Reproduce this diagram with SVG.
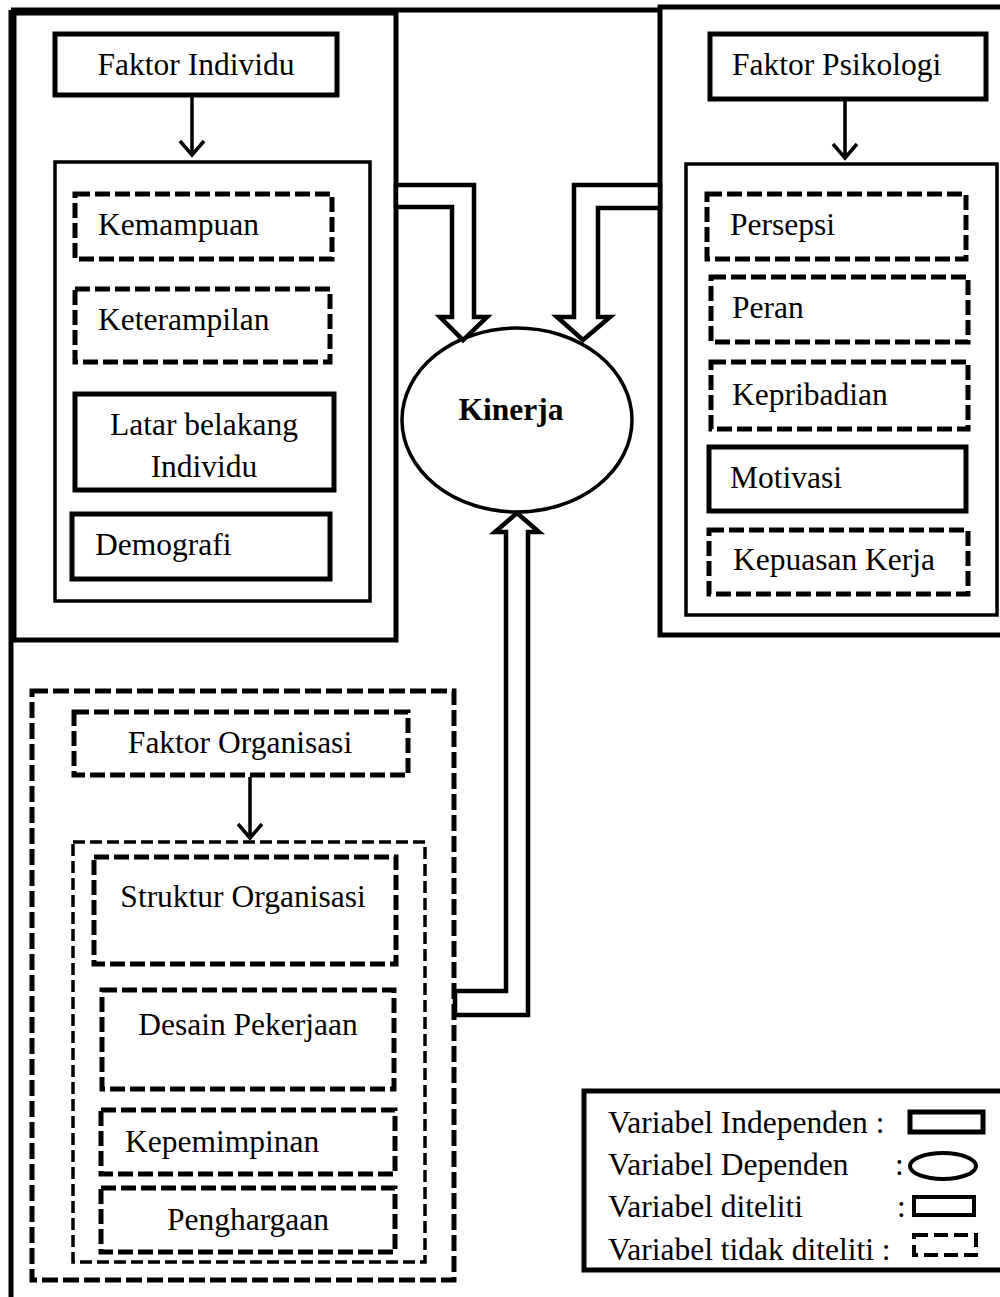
<svg xmlns="http://www.w3.org/2000/svg" width="1000" height="1297" viewBox="0 0 1000 1297">
<defs>
<style>
text{font-family:"Liberation Serif","Times New Roman",serif;font-size:31.5px;fill:#000}
.c{text-anchor:middle}
.b{font-weight:bold}
.solid{fill:none;stroke:#000;stroke-width:5}
.thin{fill:none;stroke:#000;stroke-width:3.5}
.dash{fill:none;stroke:#000;stroke-width:5;stroke-dasharray:15 5}
.dashthin{fill:none;stroke:#000;stroke-width:3.5;stroke-dasharray:12 5}
.dashbig{fill:none;stroke:#000;stroke-width:5;stroke-dasharray:16 5}
.line{fill:none;stroke:#000;stroke-width:3.5}
.block{fill:#fff;stroke:#000;stroke-width:4.5;stroke-linejoin:miter}
</style>
</defs>
<rect x="0" y="0" width="1000" height="1297" fill="#fff"/>

<g id="frame">
<path class="solid" d="M11,10 H662 M11,10 V1297"/>
</g>

<g id="group-individu">
<rect class="solid" x="14" y="13" width="382" height="627"/>
<rect class="thin" x="55" y="162" width="315" height="439"/>
</g>
<g id="faktor-individu">
<rect class="solid" x="55" y="34" width="282" height="61"/>
<text class="c" x="196" y="75">Faktor Individu</text>
</g>
<g id="kemampuan">
<rect class="dash" x="75" y="194" width="257" height="65"/>
<text x="98" y="235">Kemampuan</text>
</g>
<g id="keterampilan">
<rect class="dash" x="75" y="289" width="255" height="73"/>
<text x="98" y="330">Keterampilan</text>
</g>
<g id="latar-belakang">
<rect class="solid" x="75" y="394" width="259" height="96"/>
<text class="c" x="204" y="435">Latar belakang</text>
<text class="c" x="204" y="477">Individu</text>
</g>
<g id="demografi">
<rect class="solid" x="72" y="514" width="258" height="65"/>
<text x="95" y="555">Demografi</text>
</g>

<g id="group-psikologi">
<rect class="solid" x="660" y="7" width="345" height="628"/>
<rect class="thin" x="686" y="164" width="311" height="451"/>
</g>
<g id="faktor-psikologi">
<rect class="solid" x="710" y="34" width="276" height="65"/>
<text x="732" y="75">Faktor Psikologi</text>
</g>
<g id="persepsi">
<rect class="dash" x="707" y="194" width="259" height="65"/>
<text x="730" y="235">Persepsi</text>
</g>
<g id="peran">
<rect class="dash" x="711" y="277" width="257" height="65"/>
<text x="732" y="318">Peran</text>
</g>
<g id="kepribadian">
<rect class="dash" x="711" y="362" width="257" height="67"/>
<text x="732" y="405">Kepribadian</text>
</g>
<g id="motivasi">
<rect class="solid" x="709" y="447" width="257" height="64"/>
<text x="730" y="488">Motivasi</text>
</g>
<g id="kepuasan-kerja">
<rect class="dash" x="709" y="530" width="259" height="64"/>
<text x="733" y="570">Kepuasan Kerja</text>
</g>

<g id="kinerja">
<ellipse cx="517" cy="420" rx="115" ry="92" fill="#fff" stroke="#000" stroke-width="3.5"/>
<text class="c b" x="511" y="420">Kinerja</text>
</g>

<g id="group-organisasi">
<rect class="dashbig" x="32" y="691" width="422" height="589"/>
<rect class="dashthin" x="73" y="842" width="352" height="420"/>
</g>
<g id="faktor-organisasi">
<rect class="dash" x="74" y="712" width="334" height="63"/>
<text class="c" x="240" y="753">Faktor Organisasi</text>
</g>
<g id="struktur-organisasi">
<rect class="dash" x="94" y="857" width="302" height="107"/>
<text class="c" x="243" y="907">Struktur Organisasi</text>
</g>
<g id="desain-pekerjaan">
<rect class="dash" x="102" y="990" width="292" height="99"/>
<text class="c" x="248" y="1035">Desain Pekerjaan</text>
</g>
<g id="kepemimpinan">
<rect class="dash" x="101" y="1110" width="294" height="64"/>
<text x="125" y="1152">Kepemimpinan</text>
</g>
<g id="penghargaan">
<rect class="dash" x="101" y="1188" width="294" height="64"/>
<text class="c" x="248" y="1230">Penghargaan</text>
</g>

<g id="connectors">
<path class="line" d="M192,97 V155 M180,141 L192,155 L204,141"/>
<path class="line" d="M845,101 V158 M833,144 L845,158 L857,144"/>
<path class="line" d="M250,777 V838 M238,824 L250,838 L262,824"/>
<path class="block" d="M396,185 H474 V317 H487 L463,340 L440,317 H452 V207 H396 Z"/>
<path class="block" d="M660,185 H574 V317 H557 L583,340 L610,317 H598 V208 H660 Z"/>
<path class="block" d="M455,991 H506 V532 H495 L517,513 L539,532 H528 V1015 H455 Z"/>
</g>

<g id="legend">
<rect class="solid" x="584" y="1091" width="421" height="179"/>
<text x="608" y="1133">Variabel Independen :</text>
<rect class="solid" x="910" y="1112" width="73" height="20"/>
<text x="608" y="1175">Variabel Dependen</text>
<text x="895" y="1175">:</text>
<ellipse cx="943" cy="1166" rx="33" ry="13" fill="none" stroke="#000" stroke-width="4"/>
<text x="608" y="1217">Variabel diteliti</text>
<text x="897" y="1217">:</text>
<rect x="914" y="1197" width="60" height="18" fill="none" stroke="#000" stroke-width="4"/>
<text x="608" y="1260">Variabel tidak diteliti :</text>
<rect x="914" y="1235" width="62" height="20" fill="none" stroke="#000" stroke-width="4" stroke-dasharray="14 6"/>
</g>
</svg>
